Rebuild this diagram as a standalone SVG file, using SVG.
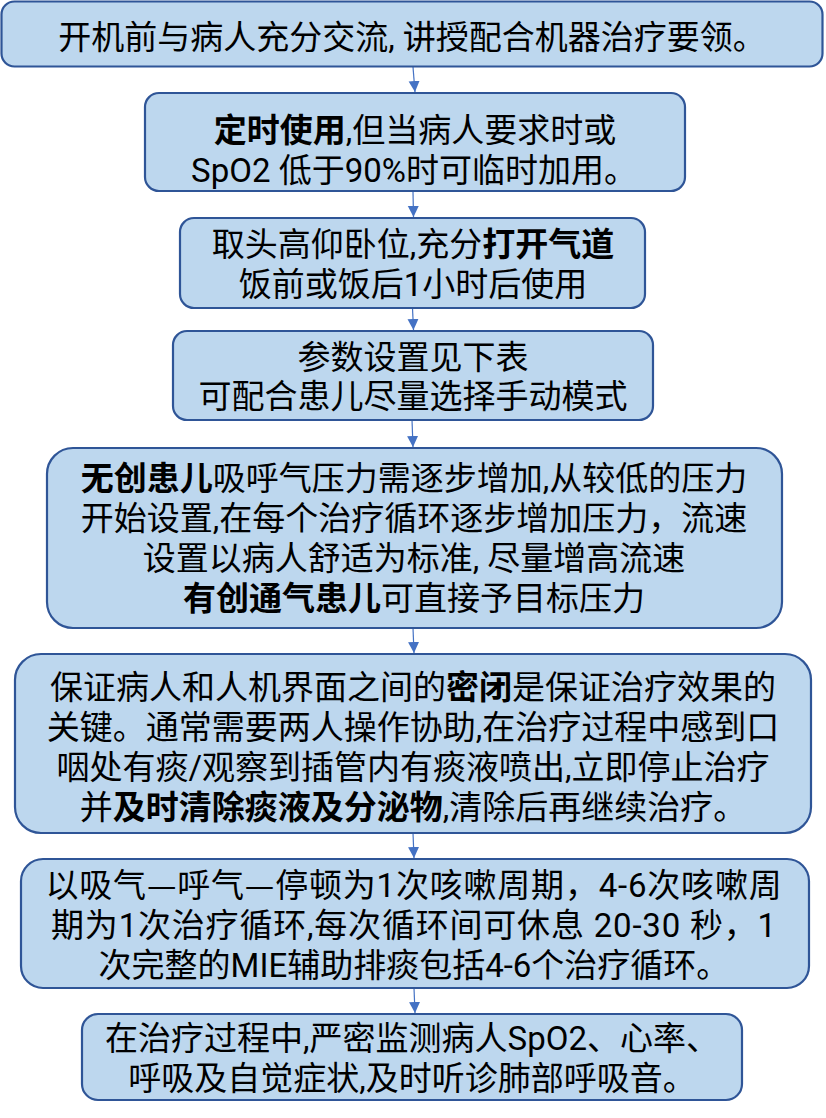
<svg xmlns="http://www.w3.org/2000/svg" width="826" height="1118" viewBox="0 0 826 1118">
<style>
.box{fill:#BDD7EE;stroke:#2F5597;stroke-width:2.2}
.t{font-family:Roboto,"Noto Sans CJK SC",sans-serif;font-size:33px;fill:#000;text-anchor:middle}
.b{font-weight:bold}
.cjk{font-family:"Noto Sans CJK SC",sans-serif}
.ls{letter-spacing:0.8px}
.conn{stroke:#4472C4;stroke-width:1.2;fill:none}
</style>
<defs>
<marker id="ah" markerUnits="userSpaceOnUse" markerWidth="12" markerHeight="12" viewBox="0 0 12 12" refX="11" refY="6" orient="auto">
<path d="M0,0.5 L11,6 L0,11.5 Z" fill="#4472C4"/>
</marker>
</defs>
<rect width="826" height="1118" fill="#FFFFFF"/>
<g id="connectors">
<line class="conn" x1="413" y1="67" x2="415" y2="92" marker-end="url(#ah)"/>
<line class="conn" x1="413" y1="192" x2="413.5" y2="217" marker-end="url(#ah)"/>
<line class="conn" x1="412.5" y1="308" x2="413.5" y2="330" marker-end="url(#ah)"/>
<line class="conn" x1="412" y1="420" x2="413" y2="447" marker-end="url(#ah)"/>
<line class="conn" x1="413" y1="628" x2="414" y2="653" marker-end="url(#ah)"/>
<line class="conn" x1="413" y1="833" x2="414" y2="858" marker-end="url(#ah)"/>
<line class="conn" x1="414" y1="988" x2="415" y2="1013" marker-end="url(#ah)"/>
</g>
<g id="node1">
<rect class="box" x="1.5" y="1.5" width="821" height="65" rx="13"/>
<text class="t" x="412" y="49">开机前与病人充分交流, 讲授配合机器治疗要领。</text>
</g>
<g id="node2">
<rect class="box" x="145" y="93" width="540" height="98" rx="14"/>
<text class="t" x="415" y="142"><tspan class="b">定时使用</tspan>,但当病人要求时或</text>
<text class="t" x="414" y="182">SpO2 低于90%时可临时加用。</text>
</g>
<g id="node3">
<rect class="box" x="180" y="218" width="465" height="90" rx="14"/>
<text class="t" x="413" y="256">取头高仰卧位,充分<tspan class="b">打开气道</tspan></text>
<text class="t" x="413" y="296">饭前或饭后1小时后使用</text>
</g>
<g id="node4">
<rect class="box" x="173" y="331" width="480" height="89" rx="14"/>
<text class="t" x="413" y="369">参数设置见下表</text>
<text class="t" x="413" y="408">可配合患儿尽量选择手动模式</text>
</g>
<g id="node5">
<rect class="box" x="47" y="448" width="735" height="180" rx="26"/>
<text class="t" x="414" y="490"><tspan class="b">无创患儿</tspan>吸呼气压力需逐步增加,从较低的压力</text>
<text class="t" x="414" y="530">开始设置,在每个治疗循环逐步增加压力，流速</text>
<text class="t" x="414" y="570">设置以病人舒适为标准, 尽量增高流速</text>
<text class="t" x="414" y="610"><tspan class="b">有创通气患儿</tspan>可直接予目标压力</text>
</g>
<g id="node6">
<rect class="box" x="15" y="654" width="796" height="179" rx="26"/>
<text class="t" x="413" y="699">保证病人和人机界面之间的<tspan class="b">密闭</tspan>是保证治疗效果的</text>
<text class="t" x="413" y="739">关键。通常需要两人操作协助,在治疗过程中感到口</text>
<text class="t" x="413" y="779">咽处有痰/观察到插管内有痰液喷出,立即停止治疗</text>
<text class="t" x="413" y="819">并<tspan class="b">及时清除痰液及分泌物</tspan>,清除后再继续治疗。</text>
</g>
<g id="node7">
<rect class="box" x="21" y="859" width="788" height="129" rx="22"/>
<text class="t ls" x="414" y="897">以吸气<tspan class="cjk">—</tspan>呼气<tspan class="cjk">—</tspan>停顿为1次咳嗽周期，4-6次咳嗽周</text>
<text class="t ls" x="414" y="937">期为1次治疗循环,每次循环间可休息 20-30 秒，1</text>
<text class="t" x="414" y="977">次完整的MIE辅助排痰包括4-6个治疗循环。</text>
</g>
<g id="node8">
<rect class="box" x="82" y="1014" width="660" height="86" rx="16"/>
<text class="t" x="412" y="1050">在治疗过程中,严密监测病人SpO2、心率、</text>
<text class="t" x="412" y="1090">呼吸及自觉症状,及时听诊肺部呼吸音。</text>
</g>
</svg>
